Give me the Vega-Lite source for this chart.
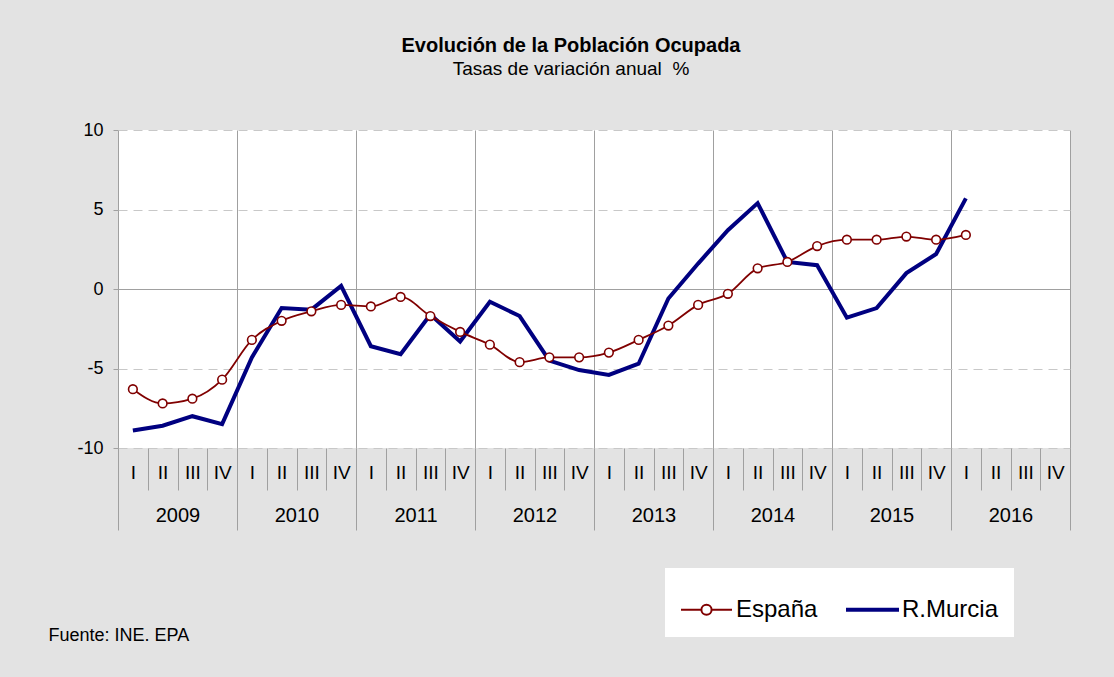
{
  "$schema": "https://vega.github.io/schema/vega-lite/v6.json",
  "width": 952,
  "height": 318,
  "autosize": {"type": "none"},
  "padding": {"left": 118, "top": 130, "right": 44, "bottom": 229},
  "background": "#e3e3e3",
  "config": {
    "font": "Liberation Sans",
    "view": {"fill": "white", "stroke": null}
  },
  "title": {
    "text": "Evolución de la Población Ocupada",
    "subtitle": "Tasas de variación anual\u00a0\u00a0%",
    "anchor": "middle",
    "dx": -23,
    "offset": 42,
    "fontSize": 20,
    "fontWeight": "bold",
    "color": "black",
    "subtitleFontSize": 19,
    "subtitleColor": "black",
    "subtitlePadding": 4
  },
  "data": {
    "values": [
      {"periodo": "2009 I", "anio": "2009", "serie": "España", "valor": -6.3},
      {"periodo": "2009 II", "anio": "2009", "serie": "España", "valor": -7.2},
      {"periodo": "2009 III", "anio": "2009", "serie": "España", "valor": -6.9},
      {"periodo": "2009 IV", "anio": "2009", "serie": "España", "valor": -5.7},
      {"periodo": "2010 I", "anio": "2010", "serie": "España", "valor": -3.2},
      {"periodo": "2010 II", "anio": "2010", "serie": "España", "valor": -2.0},
      {"periodo": "2010 III", "anio": "2010", "serie": "España", "valor": -1.4},
      {"periodo": "2010 IV", "anio": "2010", "serie": "España", "valor": -1.0},
      {"periodo": "2011 I", "anio": "2011", "serie": "España", "valor": -1.1},
      {"periodo": "2011 II", "anio": "2011", "serie": "España", "valor": -0.5},
      {"periodo": "2011 III", "anio": "2011", "serie": "España", "valor": -1.7},
      {"periodo": "2011 IV", "anio": "2011", "serie": "España", "valor": -2.7},
      {"periodo": "2012 I", "anio": "2012", "serie": "España", "valor": -3.5},
      {"periodo": "2012 II", "anio": "2012", "serie": "España", "valor": -4.6},
      {"periodo": "2012 III", "anio": "2012", "serie": "España", "valor": -4.3},
      {"periodo": "2012 IV", "anio": "2012", "serie": "España", "valor": -4.3},
      {"periodo": "2013 I", "anio": "2013", "serie": "España", "valor": -4.0},
      {"periodo": "2013 II", "anio": "2013", "serie": "España", "valor": -3.2},
      {"periodo": "2013 III", "anio": "2013", "serie": "España", "valor": -2.3},
      {"periodo": "2013 IV", "anio": "2013", "serie": "España", "valor": -1.0},
      {"periodo": "2014 I", "anio": "2014", "serie": "España", "valor": -0.3},
      {"periodo": "2014 II", "anio": "2014", "serie": "España", "valor": 1.3},
      {"periodo": "2014 III", "anio": "2014", "serie": "España", "valor": 1.7},
      {"periodo": "2014 IV", "anio": "2014", "serie": "España", "valor": 2.7},
      {"periodo": "2015 I", "anio": "2015", "serie": "España", "valor": 3.1},
      {"periodo": "2015 II", "anio": "2015", "serie": "España", "valor": 3.1},
      {"periodo": "2015 III", "anio": "2015", "serie": "España", "valor": 3.3},
      {"periodo": "2015 IV", "anio": "2015", "serie": "España", "valor": 3.1},
      {"periodo": "2016 I", "anio": "2016", "serie": "España", "valor": 3.4},
      {"periodo": "2009 I", "anio": "2009", "serie": "R.Murcia", "valor": -8.9},
      {"periodo": "2009 II", "anio": "2009", "serie": "R.Murcia", "valor": -8.6},
      {"periodo": "2009 III", "anio": "2009", "serie": "R.Murcia", "valor": -8.0},
      {"periodo": "2009 IV", "anio": "2009", "serie": "R.Murcia", "valor": -8.5},
      {"periodo": "2010 I", "anio": "2010", "serie": "R.Murcia", "valor": -4.3},
      {"periodo": "2010 II", "anio": "2010", "serie": "R.Murcia", "valor": -1.2},
      {"periodo": "2010 III", "anio": "2010", "serie": "R.Murcia", "valor": -1.3},
      {"periodo": "2010 IV", "anio": "2010", "serie": "R.Murcia", "valor": 0.2},
      {"periodo": "2011 I", "anio": "2011", "serie": "R.Murcia", "valor": -3.6},
      {"periodo": "2011 II", "anio": "2011", "serie": "R.Murcia", "valor": -4.1},
      {"periodo": "2011 III", "anio": "2011", "serie": "R.Murcia", "valor": -1.6},
      {"periodo": "2011 IV", "anio": "2011", "serie": "R.Murcia", "valor": -3.3},
      {"periodo": "2012 I", "anio": "2012", "serie": "R.Murcia", "valor": -0.8},
      {"periodo": "2012 II", "anio": "2012", "serie": "R.Murcia", "valor": -1.7},
      {"periodo": "2012 III", "anio": "2012", "serie": "R.Murcia", "valor": -4.5},
      {"periodo": "2012 IV", "anio": "2012", "serie": "R.Murcia", "valor": -5.1},
      {"periodo": "2013 I", "anio": "2013", "serie": "R.Murcia", "valor": -5.4},
      {"periodo": "2013 II", "anio": "2013", "serie": "R.Murcia", "valor": -4.7},
      {"periodo": "2013 III", "anio": "2013", "serie": "R.Murcia", "valor": -0.6},
      {"periodo": "2013 IV", "anio": "2013", "serie": "R.Murcia", "valor": 1.6},
      {"periodo": "2014 I", "anio": "2014", "serie": "R.Murcia", "valor": 3.7},
      {"periodo": "2014 II", "anio": "2014", "serie": "R.Murcia", "valor": 5.4},
      {"periodo": "2014 III", "anio": "2014", "serie": "R.Murcia", "valor": 1.7},
      {"periodo": "2014 IV", "anio": "2014", "serie": "R.Murcia", "valor": 1.5},
      {"periodo": "2015 I", "anio": "2015", "serie": "R.Murcia", "valor": -1.8},
      {"periodo": "2015 II", "anio": "2015", "serie": "R.Murcia", "valor": -1.2},
      {"periodo": "2015 III", "anio": "2015", "serie": "R.Murcia", "valor": 1.0},
      {"periodo": "2015 IV", "anio": "2015", "serie": "R.Murcia", "valor": 2.2},
      {"periodo": "2016 I", "anio": "2016", "serie": "R.Murcia", "valor": 5.7}
    ]
  },
  "resolve": {"scale": {"x": "independent"}},
  "layer": [
    {
      "mark": {"type": "rule", "strokeOpacity": 0},
      "encoding": {
        "x": {
          "field": "anio",
          "type": "ordinal",
          "bandPosition": 0.5,
          "scale": {"type": "band", "domain": ["2009", "2010", "2011", "2012", "2013", "2014", "2015", "2016"], "paddingInner": 0, "paddingOuter": 0},
          "axis": {
            "orient": "bottom",
            "title": "Fuente: INE. EPA",
            "titleAnchor": "start",
            "titleAlign": "left",
            "titleBaseline": "alphabetic",
            "titleX": -70,
            "titleY": 192,
            "titleFontSize": 18,
            "titleFontWeight": "normal",
            "titleColor": "black",
            "tickBand": "extent",
            "tickSize": 82,
            "tickColor": "#a0a0a0",
            "grid": true,
            "gridColor": "#a0a0a0",
            "domain": false,
            "labelAngle": 0,
            "labelFontSize": 20,
            "labelColor": "black",
            "labelPadding": -25
          }
        }
      }
    },
    {
      "layer": [
        {
          "transform": [{"filter": "datum.serie === 'R.Murcia'"}],
          "mark": {"type": "line", "strokeWidth": 4, "interpolate": "linear"},
          "encoding": {
            "x": {
              "field": "periodo",
              "type": "ordinal",
              "bandPosition": 0.5,
              "scale": {"type": "band", "paddingInner": 0, "paddingOuter": 0, "domain": ["2009 I", "2009 II", "2009 III", "2009 IV", "2010 I", "2010 II", "2010 III", "2010 IV", "2011 I", "2011 II", "2011 III", "2011 IV", "2012 I", "2012 II", "2012 III", "2012 IV", "2013 I", "2013 II", "2013 III", "2013 IV", "2014 I", "2014 II", "2014 III", "2014 IV", "2015 I", "2015 II", "2015 III", "2015 IV", "2016 I", "2016 II", "2016 III", "2016 IV"]},
              "axis": {
                "orient": "bottom",
                "title": null,
                "tickBand": "extent",
                "tickSize": 42,
                "tickColor": "#a0a0a0",
                "grid": false,
                "domain": false,
                "labelAngle": 0,
                "labelFontSize": 19,
                "labelColor": "black",
                "labelPadding": -27,
                "labelExpr": "split(datum.value, ' ')[1]"
              }
            },
            "y": {
              "field": "valor",
              "type": "quantitative",
              "scale": {"domain": [-10, 10], "nice": false},
              "axis": {
                "title": null,
                "values": [-10, -5, 0, 5, 10],
                "labelExpr": "'' + datum.value",
                "domain": false,
                "tickSize": 5,
                "tickColor": "#a0a0a0",
                "labelFontSize": 18,
                "labelColor": "black",
                "labelPadding": 10,
                "grid": true,
                "gridColor": {"condition": {"test": "datum.value === 0", "value": "#a0a0a0"}, "value": "#c8c8c8"},
                "gridDash": {"condition": {"test": "datum.value === 0", "value": []}, "value": [9, 6]}
              }
            },
            "color": {
              "field": "serie",
              "type": "nominal",
              "scale": {"domain": ["España", "R.Murcia"], "range": ["#800000", "#000080"]},
              "legend": {
                "title": null,
                "orient": "none",
                "legendX": 547,
                "legendY": 438,
                "direction": "horizontal",
                "fillColor": "white",
                "padding": 15,
                "labelFontSize": 24,
                "labelColor": "black",
                "labelOffset": 3,
                "columnPadding": 25,
                "symbolSize": 2601,
                "symbolType": "stroke",
                "symbolStrokeWidth": 2,
                "encode": {
                  "symbols": {
                    "update": {
                      "shape": {"signal": "datum.value === 'España' ? 'M-1,0H-0.2M0.2,0H1M-0.2,0A0.2,0.2 0 1,1 0.2,0A0.2,0.2 0 1,1 -0.2,0' : 'M-1,-0.035H1V0.035H-1Z'"},
                      "fill": {"signal": "datum.value === 'España' ? 'white' : '#000080'"},
                      "fillOpacity": {"value": 1}
                    }
                  }
                }
              }
            }
          }
        },
        {
          "transform": [{"filter": "datum.serie === 'España'"}],
          "mark": {"type": "line", "strokeWidth": 1.8, "interpolate": "monotone"},
          "encoding": {
            "x": {"field": "periodo", "type": "ordinal", "bandPosition": 0.5},
            "y": {"field": "valor", "type": "quantitative"},
            "color": {"field": "serie", "type": "nominal"}
          }
        },
        {
          "transform": [{"filter": "datum.serie === 'España'"}],
          "mark": {"type": "point", "shape": "circle", "filled": true, "fill": "white", "stroke": "#800000", "strokeWidth": 1.6, "size": 75, "opacity": 1},
          "encoding": {
            "x": {"field": "periodo", "type": "ordinal", "bandPosition": 0.5},
            "y": {"field": "valor", "type": "quantitative"}
          }
        }
      ]
    }
  ]
}
